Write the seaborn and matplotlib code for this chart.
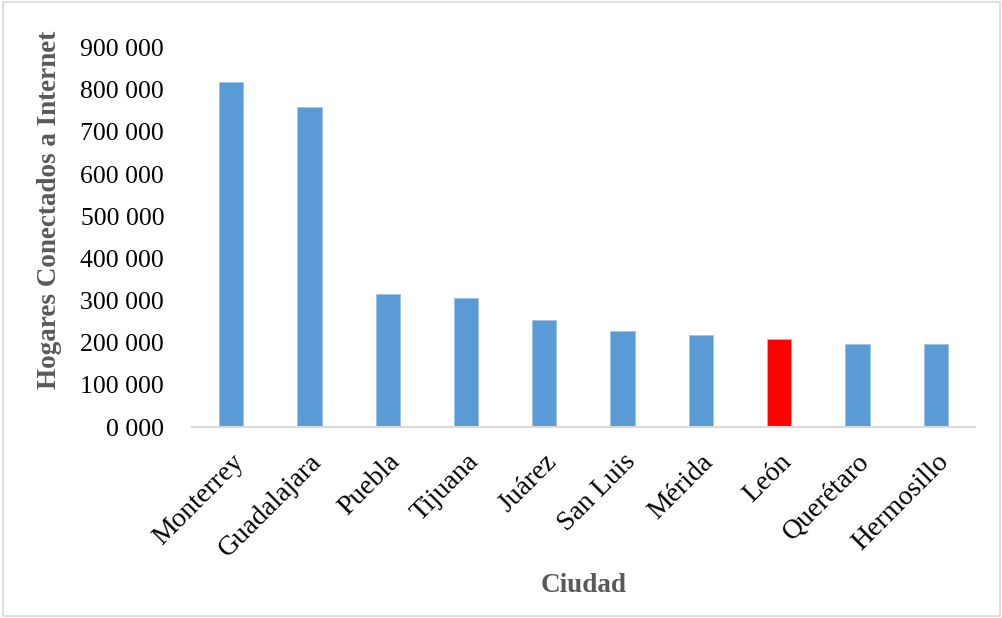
import matplotlib
matplotlib.use("Agg")
import matplotlib.pyplot as plt
from matplotlib.patches import Rectangle
from matplotlib.ticker import FuncFormatter
import seaborn as sns
import pandas as pd

# Hogares conectados a internet por ciudad
ciudades = ["Monterrey", "Guadalajara", "Puebla", "Tijuana", "Juárez",
            "San Luis", "Mérida", "León", "Querétaro", "Hermosillo"]
hogares = [818000, 759000, 315000, 306500, 255000,
           227500, 218000, 208600, 197400, 196700]
destacada = "León"

df = pd.DataFrame({"Ciudad": ciudades, "Hogares": hogares})
colores = {c: ("#FF0000" if c == destacada else "#5B9BD5") for c in ciudades}

sns.set_theme(style="white")
plt.rcParams["font.family"] = ["Liberation Serif", "DejaVu Serif"]

fig = plt.figure(figsize=(10.03, 6.18), dpi=100)
ax = fig.add_axes([0.1914, 0.309, 0.7806, 0.6141])

sns.barplot(data=df, x="Ciudad", y="Hogares", hue="Ciudad", palette=colores,
            order=ciudades, legend=False, width=0.31, ax=ax,
            edgecolor="#9DC3E6", linewidth=0.6, saturation=1)

ax.set_xlim(-0.5, len(ciudades) - 0.5)
ax.set_ylim(0, 900000)
ax.set_yticks(range(0, 900001, 100000))
ax.yaxis.set_major_formatter(FuncFormatter(lambda v, p: f"{int(v // 1000)} 000"))
ax.tick_params(axis="y", length=0, pad=20, labelsize=18.5, labelcolor="black")
ax.tick_params(axis="x", length=0, pad=16, labelsize=20, labelcolor="black")
for lbl in ax.get_xticklabels():
    lbl.set_rotation(45)
    lbl.set_ha("right")
    lbl.set_rotation_mode("anchor")

for side in ["left", "right", "top"]:
    ax.spines[side].set_visible(False)
ax.spines["bottom"].set_color("#D9D9D9")
ax.spines["bottom"].set_linewidth(1.5)

ax.set_ylabel("Hogares Conectados a Internet", fontsize=19.5, fontweight="bold",
              color="#595959")
ax.yaxis.set_label_coords(-0.166, 0.573)
ax.set_xlabel("Ciudad", fontsize=19.5, fontweight="bold", color="#595959")
ax.xaxis.set_label_coords(0.5, -0.417)
ax.xaxis.label.set_va("center")

fig.patches.append(Rectangle((0.003, 0.004), 0.994, 0.993, transform=fig.transFigure,
                             fill=False, edgecolor="#D9D9D9", linewidth=1.2))

fig.savefig("out.png", dpi=100, facecolor="white")
